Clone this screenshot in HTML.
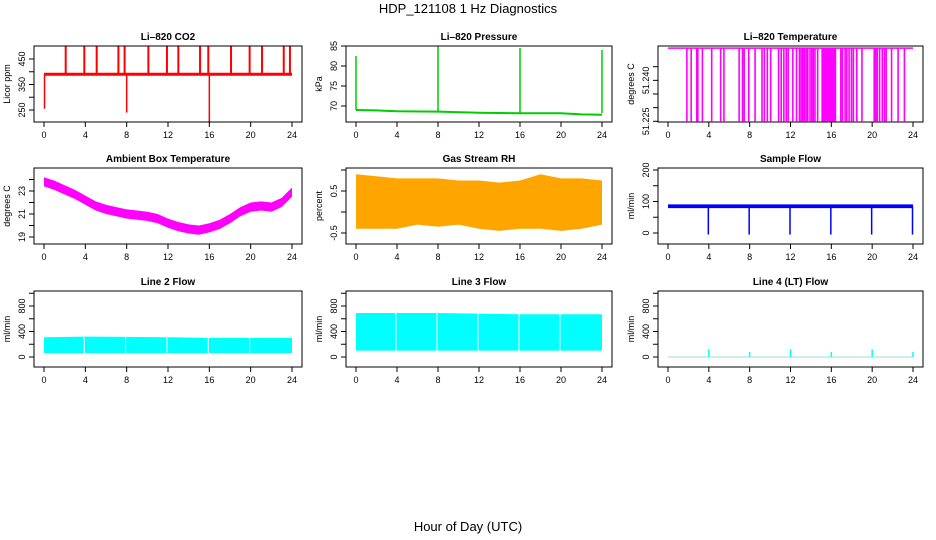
<!DOCTYPE html>
<html><head><meta charset="utf-8"><style>
body{margin:0;background:#fff;}
svg{display:block;font-family:"Liberation Sans",sans-serif;}
</style></head><body>
<svg id="c" width="936" height="540" viewBox="0 0 936 540">
<text x="468" y="13" font-size="13" text-anchor="middle">HDP_121108  1 Hz Diagnostics</text>
<text x="468" y="531" font-size="13" text-anchor="middle">Hour of Day (UTC)</text>
</svg>
<script>
// ---- data ----
const xTicks=[0,4,8,12,16,20,24];
const co2Base=390;
const co2SpikeHours=[2.1,3.9,5.1,7.2,7.8,10.1,11.9,13.0,15.1,15.9,18.1,19.9,21.1,23.2,23.8];
const co2SpikeValues=[500,500,500,500,500,500,500,500,500,500,500,500,500,500,500];
const co2DipHours=[0.05,8.0,16.0];
const co2DipValues=[255,240,200];
const presHours=[0,2,4,8,12,16,20,22,24];
const presValues=[69.0,68.9,68.7,68.6,68.3,68.2,68.2,67.9,67.8];
const presSpikeHours=[0.0,8.0,16.0,24.0];
const presSpikeValues=[82.5,85.0,84.5,84.0];
const tempHigh=51.2518;
const tempLow=51.225;
const tempDropHours=[1.85,2.27,2.82,2.92,3.37,4.28,5.16,5.48,6.97,7.3,7.46,7.91,8.53,9.21,9.44,9.73,10.06,10.83,11.09,11.35,11.58,11.77,12.23,12.59,12.88,13.04,13.2,13.36,13.53,13.69,13.91,14.08,14.24,14.4,14.66,15.1,15.2,15.3,15.4,15.5,15.6,15.7,15.8,15.9,16.0,16.1,16.2,16.3,16.4,16.93,17.09,17.35,17.52,17.74,17.97,18.16,18.49,19.0,20.2,20.34,20.5,20.73,20.99,21.2,21.37,21.9,22.54,23.16];
const ambHours=[0,1,2,3,4,5,6,7,8,9,10,11,12,13,14,15,16,17,18,19,20,21,22,23,24];
const ambValues=[23.8,23.5,23.1,22.7,22.2,21.7,21.4,21.2,21.0,20.9,20.8,20.6,20.2,19.9,19.7,19.6,19.8,20.1,20.6,21.2,21.6,21.7,21.6,22.0,22.9];
const rhHours=[0,2,4,6,8,10,12,14,16,18,20,22,24];
const rhHigh=[0.9,0.85,0.8,0.8,0.8,0.75,0.75,0.7,0.75,0.9,0.8,0.8,0.75];
const rhLow=[-0.4,-0.4,-0.4,-0.3,-0.35,-0.3,-0.4,-0.45,-0.4,-0.4,-0.45,-0.4,-0.3];
const flowHours=[0,4,8,12,16,20,24];
const sampleBase=85;
const sampleDipHours=[3.95,7.95,11.95,15.95,19.95,23.95];
const sampleDipValues=[-5,-5,-5,-5,-5,-5];
const line2Low=[60,60,60,60,60,60,60];
const line2High=[310,320,315,310,300,300,300];
const line3Low=[100,100,100,100,100,100,100];
const line3High=[690,690,690,680,670,670,670];
const flowGapHours=[3.9,7.9,11.9,15.9,19.9];
const line4SpikeHours=[4,8,12,16,20,24];
const line4SpikeValues=[120,80,120,80,120,80];

// ---- layout ----
const svg=document.getElementById('c');
const NS='http://www.w3.org/2000/svg';
function mk(tag,attrs,parent){const e=document.createElementNS(NS,tag);for(const k in attrs)e.setAttribute(k,attrs[k]);(parent||svg).appendChild(e);return e;}
const cols=[[34,302],[346,612],[658,923]];
const rows=[[46,122],[168,244],[291,367]];
function panel(name,col,row,title,ylab,yr,yticks,ylabels,ytext){
  const [L,R]=cols[col],[T,B]=rows[row];
  const g=mk('g',{});
  
  
  const sx=h=>L+10+h/24*(R-L-20);
  const sy=v=>yr[1]+(v-yr[0])*(yr[3]-yr[1])/(yr[2]-yr[0]);
  const t=mk('text',{x:(L+R)/2,y:T-6,'font-size':10,'font-weight':'bold','text-anchor':'middle'},g);
  t.textContent=title;
  
  
  const plot=mk('g',{},g);
  
  
  const box=mk('rect',{x:L,y:T,width:R-L,height:B-T,fill:'none',stroke:'#000','stroke-width':1},g);
  
  
  mk('line',{x1:sx(0),x2:sx(24),y1:B,y2:B,stroke:'#000'},g);
  xTicks.forEach(h=>{mk('line',{x1:sx(h),x2:sx(h),y1:B,y2:B+5,stroke:'#000'},g);
    const l=mk('text',{x:sx(h),y:B+16,'font-size':9,'text-anchor':'middle'},g);l.textContent=h;
    
    });
  mk('line',{x1:L,x2:L,y1:sy(yticks[0]),y2:sy(yticks[yticks.length-1]),stroke:'#000'},g);
  yticks.forEach(v=>{mk('line',{x1:L-5,x2:L,y1:sy(v),y2:sy(v),stroke:'#000'},g);});
  ylabels.forEach((v,i)=>{const y=sy(v);const l=mk('text',{x:0,y:0,'font-size':9,'text-anchor':'middle',transform:`translate(${L-9},${y}) rotate(-90)`},g);l.textContent=ytext?ytext[i]:v;
    
    });
  const yl=mk('text',{x:0,y:0,'font-size':9,'text-anchor':'middle',transform:`translate(${L-24},${(T+B)/2}) rotate(-90)`},g);yl.textContent=ylab;
  
  
  return {sx,sy,plot,L,R,T,B};
}
function vline(p,h,v1,v2,col,w){mk('line',{x1:p.sx(h),x2:p.sx(h),y1:p.sy(v1),y2:p.sy(v2),stroke:col,'stroke-width':w||1.5},p.plot);}
function band(p,hs,lo,hi,col){let d='M'+hs.map((h,i)=>p.sx(h)+','+p.sy(hi[i])).join('L');
  for(let i=hs.length-1;i>=0;i--)d+='L'+p.sx(hs[i])+','+p.sy(lo[i]);mk('path',{d:d+'Z',fill:col,stroke:'none'},p.plot);}

// CO2
let p=panel('co2',0,0,'Li–820 CO2','Licor ppm',[250,110,450,59],[250,300,350,400,450],[250,350,450]);
co2SpikeHours.forEach((h,i)=>vline(p,h,co2Base,co2SpikeValues[i],'#f00',2));
co2DipHours.forEach((h,i)=>vline(p,h,co2Base,co2DipValues[i],'#f00',1.5));
mk('line',{x1:p.sx(0),x2:p.sx(24),y1:p.sy(co2Base),y2:p.sy(co2Base),stroke:'#f00','stroke-width':3},p.plot);

// Pressure
p=panel('pressure',1,0,'Li–820 Pressure','kPa',[70,106,85,46],[70,75,80,85],[70,75,80,85]);
mk('polyline',{points:presHours.map((h,i)=>p.sx(h)+','+p.sy(presValues[i])).join(' '),fill:'none',stroke:'#0c0','stroke-width':2},p.plot);
presSpikeHours.forEach((h,i)=>vline(p,h,presValues[Math.min(i*2,presValues.length-1)],presSpikeValues[i],'#0c0',1.5));

// Temperature
p=panel('temperature',2,0,'Li–820 Temperature','degrees C',[51.225,121.3,51.245,66.7],[51.225,51.230,51.235,51.240,51.245],[51.225,51.240],['51.225','51.240']);
tempDropHours.forEach(h=>vline(p,h,tempHigh,tempLow,'#f0f',1.6));
mk('line',{x1:p.sx(0),x2:p.sx(24),y1:p.sy(tempHigh),y2:p.sy(tempHigh),stroke:'#f0f','stroke-width':1.5},p.plot);

// Ambient
p=panel('ambient',0,1,'Ambient Box Temperature','degrees C',[19,237,23,191],[19,20,21,22,23,24],[19,21,23]);
band(p,ambHours,ambValues.map(v=>v-0.4),ambValues.map(v=>v+0.4),'#f0f');

// RH
p=panel('rh',1,1,'Gas Stream RH','percent',[-0.5,233,0.5,191],[-0.5,0,0.5,1.0],[-0.5,0.5]);
band(p,rhHours,rhLow,rhHigh,'#ffa500');

// Sample flow
p=panel('sample-flow',2,1,'Sample Flow','ml/min',[0,233,200,170],[0,50,100,150,200],[0,100,200]);
band(p,flowHours,flowHours.map(()=>sampleBase-6),flowHours.map(()=>sampleBase+6),'#00f');
sampleDipHours.forEach((h,i)=>vline(p,h,sampleBase,sampleDipValues[i],'#00f',1.5));

// Line 2
const fy=[0,357,800,306],ft=[0,200,400,600,800,1000],fl=[0,400,800];
p=panel('line2-flow',0,2,'Line 2 Flow','ml/min',fy,ft,fl);
band(p,flowHours,line2Low,line2High,'#0ff');
flowGapHours.forEach(h=>vline(p,h,line2Low[0],line2High[0],'#fff',1));
// Line 3
p=panel('line3-flow',1,2,'Line 3 Flow','ml/min',fy,ft,fl);
band(p,flowHours,line3Low,line3High,'#0ff');
flowGapHours.forEach(h=>vline(p,h,line3Low[0],line3High[0],'#fff',1));
// Line 4
p=panel('line4-flow',2,2,'Line 4 (LT) Flow','ml/min',fy,ft,fl);
mk('line',{x1:p.sx(0),x2:p.sx(24),y1:p.sy(0),y2:p.sy(0),stroke:'#9dd','stroke-width':1},p.plot);
line4SpikeHours.forEach((h,i)=>vline(p,h,0,line4SpikeValues[i],'#0ff',1.5));
</script>
</body></html>
